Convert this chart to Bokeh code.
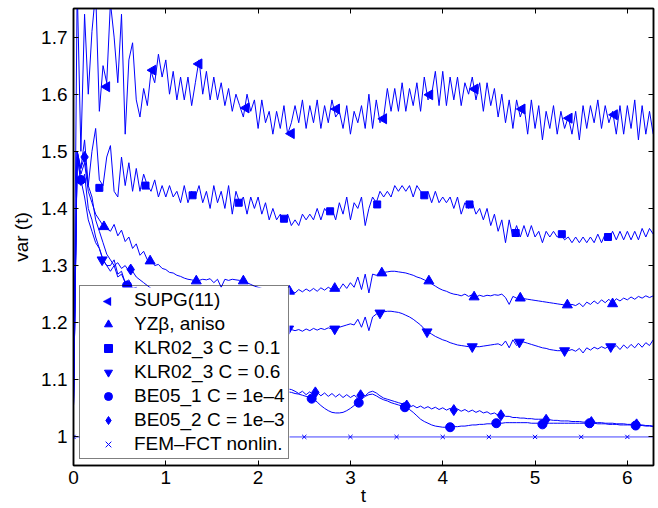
import numpy as np
from bokeh.plotting import figure
from bokeh.models import (Range1d, LinearAxis, FixedTicker, Legend, LegendItem,
                          PolyAnnotation, BoxAnnotation)
from bokeh.embed import file_html
from bokeh.resources import INLINE

# sampling step of the time series (t = 0, 0.04, 0.08, ...)
t_step = 0.04

supg = [
    1.055, 1.79, 1.50, 1.74, 1.60, 1.71, 1.78, 1.57, 1.65, 1.62,
    1.76, 1.70, 1.62, 1.74, 1.53, 1.66, 1.69, 1.59, 1.56, 1.61,
    1.58, 1.64, 1.62, 1.67, 1.63, 1.66, 1.60, 1.64, 1.59, 1.63,
    1.59, 1.63, 1.58, 1.62, 1.66, 1.60, 1.64, 1.59, 1.63, 1.59,
    1.62, 1.58, 1.61, 1.57, 1.60, 1.58, 1.56, 1.60, 1.57, 1.59,
    1.54, 1.59, 1.55, 1.57, 1.53, 1.57, 1.54, 1.58, 1.53, 1.55,
    1.58, 1.55, 1.59, 1.54, 1.58, 1.55, 1.59, 1.54, 1.58, 1.55,
    1.59, 1.56, 1.57, 1.54, 1.58, 1.53, 1.57, 1.55, 1.58, 1.54,
    1.60, 1.54, 1.59, 1.55, 1.56, 1.61, 1.57, 1.61, 1.57, 1.62,
    1.57, 1.61, 1.58, 1.62, 1.57, 1.63, 1.59, 1.60, 1.64, 1.58,
    1.64, 1.58, 1.63, 1.59, 1.63, 1.58, 1.62, 1.60, 1.63, 1.59,
    1.62, 1.57, 1.62, 1.58, 1.61, 1.56, 1.60, 1.55, 1.59, 1.54,
    1.59, 1.56, 1.58, 1.53, 1.59, 1.54, 1.58, 1.52, 1.57, 1.54,
    1.58, 1.53, 1.57, 1.54, 1.56, 1.53, 1.57, 1.52, 1.58, 1.54,
    1.58, 1.55, 1.59, 1.54, 1.58, 1.55, 1.57, 1.53, 1.58, 1.53,
    1.58, 1.54, 1.59, 1.52, 1.58, 1.53, 1.57, 1.53,
]

yzb = [
    1.055, 1.50, 1.46, 1.48, 1.43, 1.41, 1.39, 1.38, 1.37, 1.365,
    1.36, 1.372, 1.352, 1.362, 1.342, 1.35, 1.33, 1.338, 1.318, 1.325,
    1.31, 1.312, 1.30, 1.302, 1.295, 1.293, 1.288, 1.287, 1.283, 1.281,
    1.278, 1.276, 1.275, 1.273, 1.274, 1.276, 1.275, 1.277, 1.27, 1.276,
    1.262, 1.276, 1.274, 1.276, 1.275, 1.274, 1.273, 1.27, 1.267, 1.264,
    1.262, 1.26, 1.258, 1.257, 1.256, 1.256, 1.255, 1.256, 1.255, 1.256,
    1.252, 1.258, 1.254, 1.259, 1.255, 1.26, 1.255, 1.261, 1.257, 1.262,
    1.258, 1.264, 1.258, 1.268, 1.26, 1.27, 1.262, 1.28, 1.258, 1.285,
    1.252, 1.285, 1.283, 1.288, 1.288, 1.289, 1.29, 1.29, 1.289, 1.288,
    1.287, 1.285, 1.283, 1.28, 1.278, 1.275, 1.272, 1.268, 1.264, 1.26,
    1.257, 1.255, 1.252, 1.25, 1.249, 1.247, 1.25, 1.246, 1.249, 1.245,
    1.248, 1.246, 1.248, 1.247, 1.249, 1.248, 1.25, 1.244, 1.232, 1.246,
    1.243, 1.244, 1.242, 1.241, 1.24, 1.239, 1.238, 1.237, 1.236, 1.235,
    1.234, 1.233, 1.232, 1.231, 1.231, 1.232, 1.23, 1.234, 1.228, 1.236,
    1.232, 1.238, 1.233, 1.24, 1.235, 1.241, 1.234, 1.242, 1.238, 1.243,
    1.24, 1.245, 1.241, 1.246, 1.243, 1.247, 1.244, 1.247,
]

klr01 = [
    1.055, 1.50, 1.47, 1.52, 1.44, 1.50, 1.54, 1.45, 1.44, 1.49,
    1.51, 1.43, 1.42, 1.49, 1.44, 1.48, 1.43, 1.47, 1.43, 1.46,
    1.44, 1.43, 1.45, 1.42, 1.44, 1.42, 1.44, 1.42, 1.43, 1.41,
    1.44, 1.41, 1.43, 1.42, 1.44, 1.41, 1.43, 1.40, 1.44, 1.41,
    1.43, 1.40, 1.44, 1.39, 1.43, 1.41, 1.42, 1.39, 1.42, 1.40,
    1.42, 1.39, 1.41, 1.38, 1.40, 1.38, 1.39, 1.38, 1.39, 1.37,
    1.38, 1.37, 1.39, 1.38, 1.39, 1.38, 1.40, 1.38, 1.40, 1.39,
    1.40, 1.38, 1.41, 1.39, 1.42, 1.38, 1.41, 1.40, 1.42, 1.37,
    1.40, 1.42, 1.41, 1.43, 1.42, 1.43, 1.42, 1.44, 1.43, 1.44,
    1.43, 1.44, 1.42, 1.44, 1.43, 1.42, 1.43, 1.41, 1.43, 1.41,
    1.42, 1.41, 1.42, 1.40, 1.42, 1.39, 1.41, 1.40, 1.41, 1.39,
    1.40, 1.38, 1.40, 1.37, 1.39, 1.36, 1.38, 1.34, 1.38, 1.35,
    1.37, 1.35, 1.37, 1.35, 1.37, 1.35, 1.36, 1.34, 1.36, 1.35,
    1.36, 1.35, 1.355, 1.345, 1.35, 1.34, 1.35, 1.34, 1.35, 1.34,
    1.35, 1.34, 1.355, 1.34, 1.355, 1.345, 1.36, 1.345, 1.36, 1.345,
    1.36, 1.345, 1.36, 1.345, 1.365, 1.35, 1.365, 1.355,
]

klr06 = [
    1.055, 1.50, 1.44, 1.46, 1.40, 1.38, 1.35, 1.33, 1.31, 1.30,
    1.30, 1.31, 1.285, 1.29, 1.27, 1.275, 1.26, 1.262, 1.25, 1.25,
    1.245, 1.242, 1.24, 1.237, 1.235, 1.232, 1.23, 1.228, 1.226, 1.224,
    1.222, 1.22, 1.218, 1.216, 1.214, 1.213, 1.212, 1.21, 1.209, 1.208,
    1.206, 1.205, 1.204, 1.203, 1.202, 1.201, 1.20, 1.199, 1.198, 1.197,
    1.196, 1.195, 1.194, 1.193, 1.192, 1.191, 1.19, 1.19, 1.189, 1.188,
    1.186, 1.188, 1.185, 1.189, 1.186, 1.19, 1.187, 1.19, 1.188, 1.191,
    1.189, 1.19, 1.192, 1.194, 1.196, 1.198, 1.196, 1.206, 1.192, 1.21,
    1.186, 1.21, 1.215, 1.217, 1.219, 1.22, 1.22, 1.219, 1.218, 1.216,
    1.213, 1.21, 1.206, 1.201, 1.196, 1.189, 1.184, 1.18, 1.176, 1.173,
    1.17, 1.168, 1.165, 1.163, 1.161, 1.16, 1.159, 1.158, 1.158, 1.158,
    1.158, 1.159, 1.16, 1.161, 1.162, 1.163, 1.16, 1.168, 1.156, 1.17,
    1.16, 1.167, 1.166, 1.164, 1.162, 1.16, 1.158, 1.156, 1.155, 1.153,
    1.152, 1.151, 1.151, 1.15, 1.151, 1.153, 1.15, 1.155, 1.147, 1.156,
    1.152, 1.157, 1.154, 1.158, 1.155, 1.159, 1.155, 1.16, 1.153, 1.161,
    1.155, 1.162, 1.156, 1.164, 1.157, 1.165, 1.16, 1.17,
]

be05_1 = [
    1.055, 1.49, 1.45, 1.42, 1.38, 1.36, 1.34, 1.33, 1.31, 1.30,
    1.29, 1.30, 1.28, 1.285, 1.27, 1.265, 1.26, 1.25, 1.245, 1.24,
    1.235, 1.23, 1.22, 1.21, 1.20, 1.19, 1.18, 1.17, 1.165, 1.16,
    1.155, 1.15, 1.145, 1.14, 1.135, 1.13, 1.125, 1.12, 1.117, 1.114,
    1.11, 1.107, 1.104, 1.10, 1.098, 1.095, 1.093, 1.091, 1.09, 1.088,
    1.087, 1.086, 1.085, 1.084, 1.083, 1.082, 1.081, 1.08, 1.079, 1.078,
    1.076, 1.075, 1.073, 1.071, 1.069, 1.066, 1.061, 1.055, 1.05, 1.046,
    1.043, 1.042, 1.042, 1.043, 1.046, 1.05, 1.055, 1.06, 1.066, 1.071,
    1.074, 1.075, 1.072, 1.068, 1.065, 1.063, 1.06, 1.058, 1.056, 1.054,
    1.051, 1.048, 1.043, 1.037, 1.031, 1.027, 1.024, 1.021, 1.019, 1.018,
    1.017, 1.017, 1.017, 1.018, 1.018, 1.019, 1.019, 1.02, 1.021, 1.021,
    1.022, 1.022, 1.023, 1.023, 1.024, 1.024, 1.024, 1.025, 1.025, 1.025,
    1.025, 1.025, 1.025, 1.025, 1.024, 1.024, 1.024, 1.024, 1.024, 1.024,
    1.024, 1.024, 1.024, 1.024, 1.024, 1.024, 1.024, 1.024, 1.024, 1.024,
    1.024, 1.024, 1.023, 1.023, 1.023, 1.022, 1.022, 1.022, 1.021, 1.021,
    1.021, 1.021, 1.02, 1.02, 1.02, 1.019, 1.019, 1.018,
]

be05_2 = [
    1.055, 1.50, 1.47, 1.49, 1.44, 1.42, 1.38, 1.36, 1.34, 1.32,
    1.31, 1.30, 1.305, 1.295, 1.30, 1.29, 1.29, 1.28, 1.275, 1.27,
    1.265, 1.26, 1.25, 1.245, 1.24, 1.23, 1.22, 1.21, 1.20, 1.19,
    1.18, 1.17, 1.16, 1.155, 1.15, 1.145, 1.14, 1.135, 1.13, 1.125,
    1.12, 1.115, 1.11, 1.107, 1.104, 1.10, 1.098, 1.096, 1.094, 1.092,
    1.09, 1.089, 1.088, 1.087, 1.086, 1.085, 1.085, 1.084, 1.084, 1.083,
    1.08, 1.076, 1.08, 1.074, 1.079, 1.073, 1.078, 1.072, 1.077, 1.071,
    1.076, 1.07, 1.075, 1.069, 1.074, 1.069, 1.073, 1.068, 1.074, 1.072,
    1.078, 1.08, 1.077, 1.072, 1.068, 1.066, 1.064, 1.062, 1.06, 1.058,
    1.056, 1.052, 1.055, 1.051, 1.054, 1.05, 1.053, 1.049, 1.052, 1.048,
    1.051, 1.047, 1.05, 1.046, 1.049, 1.045, 1.048, 1.044, 1.047, 1.043,
    1.046, 1.042, 1.044, 1.04, 1.042, 1.038, 1.039, 1.036, 1.036, 1.034,
    1.034, 1.033, 1.033, 1.032, 1.032, 1.031, 1.031, 1.031, 1.03, 1.03,
    1.029, 1.029, 1.028, 1.028, 1.028, 1.027, 1.027, 1.027, 1.026, 1.026,
    1.026, 1.025, 1.025, 1.025, 1.024, 1.024, 1.024, 1.023, 1.023, 1.023,
    1.022, 1.022, 1.022, 1.021, 1.021, 1.02, 1.02, 1.019,
]

fem_t = [0.0, 6.2832]
fem_v = [1.0, 1.0]

# marker positions
supg_mt = [0.36, 0.86, 1.36, 1.87, 2.36, 2.85, 3.36, 3.86, 4.35, 4.86, 5.37, 5.86]
supg_mv = [1.613, 1.642, 1.653, 1.576, 1.531, 1.574, 1.557, 1.599, 1.609, 1.574, 1.558, 1.564]
yzb_mt = [0.33, 0.83, 1.33, 1.84, 2.34, 2.83, 3.34, 3.85, 4.34, 4.84, 5.35, 5.84]
yzb_mv = [1.368, 1.308, 1.273, 1.273, 1.255, 1.26, 1.287, 1.273, 1.245, 1.243, 1.231, 1.233]
klr01_mt = [0.28, 0.78, 1.29, 1.79, 2.28, 2.78, 3.29, 3.80, 4.29, 4.79, 5.29, 5.79]
klr01_mv = [1.436, 1.44, 1.423, 1.41, 1.382, 1.395, 1.407, 1.423, 1.407, 1.357, 1.355, 1.35]
klr06_mt = [0.31, 0.81, 1.32, 1.82, 2.33, 2.83, 3.32, 3.83, 4.32, 4.83, 5.32, 5.82]
klr06_mv = [1.31, 1.245, 1.217, 1.203, 1.189, 1.189, 1.217, 1.184, 1.158, 1.166, 1.151, 1.158]
be05_1_mt = [0.08, 0.58, 1.08, 1.58, 2.08, 2.58, 3.09, 3.59, 4.08, 4.58, 5.08, 5.59, 6.09]
be05_1_mv = [1.45, 1.265, 1.17, 1.11, 1.086, 1.067, 1.06, 1.052, 1.017, 1.024, 1.022, 1.024, 1.02]
be05_2_mt = [0.12, 0.62, 1.12, 1.62, 2.12, 2.62, 3.11, 3.61, 4.12, 4.63, 5.12, 5.61, 6.10]
be05_2_mv = [1.49, 1.293, 1.20, 1.115, 1.087, 1.078, 1.073, 1.055, 1.047, 1.038, 1.03, 1.026, 1.022]
fem_mt = [0.0, 0.5, 1.0, 1.5, 2.0, 2.5, 3.0, 3.5, 4.0, 4.5, 5.0, 5.5, 6.0]
fem_mv = [1.0, 1.0, 1.0, 1.0, 1.0, 1.0, 1.0, 1.0, 1.0, 1.0, 1.0, 1.0, 1.0]

labels = ["SUPG(11)", "YZ\u03b2, aniso", "KLR02_3 C = 0.1", "KLR02_3 C = 0.6",
          "BE05_1 C = 1e\u20134", "BE05_2 C = 1e\u20133", "FEM\u2013FCT nonlin."]

x_ticks = [0, 1, 2, 3, 4, 5, 6]
y_ticks = [1.0, 1.1, 1.2, 1.3, 1.4, 1.5, 1.6, 1.7]
y_tick_labels = ["1", "1.1", "1.2", "1.3", "1.4", "1.5", "1.6", "1.7"]
x_limits = (0.0, 2 * np.pi)
y_limits = (0.95, 1.75)

BLUE = "#0000ff"
FONT = "Liberation Sans"

# layout constants (pixels)
W, H = 658, 508
BORDER_L, BORDER_T, BORDER_R = 73, 8, 5
BOTTOM_PANEL = 43
LEG_MARGIN, LEG_PAD, LEG_SPACING = 6, 3, 2
GLYPH_W, GLYPH_H, ROW_H = 50, 20, 22
LEG_W = 210

p = figure(width=W, height=H, x_range=Range1d(*x_limits), y_range=Range1d(*y_limits),
           output_backend="svg", toolbar_location=None,
           min_border_left=BORDER_L, min_border_right=BORDER_R, min_border_top=BORDER_T,
           min_border_bottom=0)
p.background_fill_color = "white"
p.border_fill_color = "white"
p.outline_line_color = "black"
p.outline_line_width = 1.5
p.xgrid.visible = False
p.ygrid.visible = False


def tgrid(vals):
    return [round(k * t_step, 4) for k in range(len(vals))]


series = [supg, yzb, klr01, klr06, be05_1, be05_2]
for s in series:
    p.line(tgrid(s), s, line_color=BLUE, line_width=1)
p.line(fem_t, fem_v, line_color=BLUE, line_width=1, line_alpha=0.75)

r_supg = p.scatter(supg_mt, supg_mv, marker="triangle", angle=np.pi / 2, size=10,
                   fill_color=BLUE, line_color=BLUE)
r_yzb = p.scatter(yzb_mt, yzb_mv, marker="triangle", size=10, fill_color=BLUE, line_color=BLUE)
r_k1 = p.scatter(klr01_mt, klr01_mv, marker="square", size=7, fill_color=BLUE, line_color=BLUE)
r_k6 = p.scatter(klr06_mt, klr06_mv, marker="inverted_triangle", size=10, fill_color=BLUE, line_color=BLUE)
r_b1 = p.scatter(be05_1_mt, be05_1_mv, marker="circle", size=9, fill_color=BLUE, line_color=BLUE)
r_b2 = p.scatter(be05_2_mt, be05_2_mv, marker="diamond", size=11, fill_color=BLUE, line_color=BLUE)
r_fem = p.scatter(fem_mt, fem_mv, marker="x", size=6, line_color=BLUE, line_width=1)

# invisible stand-in for the SUPG legend entry; its left-pointing key is drawn separately
r_supg_key = p.scatter([], [], marker="triangle", size=8, fill_alpha=0, line_alpha=0)

renderers = [r_supg_key, r_yzb, r_k1, r_k6, r_b1, r_b2, r_fem]

# axes
for ax in (p.xaxis[0], p.yaxis[0]):
    ax.major_tick_in = 5
    ax.major_tick_out = 0
    ax.minor_tick_line_color = None
    ax.axis_line_color = "black"
    ax.axis_line_width = 1.5
    ax.major_tick_line_color = "black"
    ax.major_label_text_font = FONT
    ax.major_label_text_font_size = "19px"
    ax.major_label_text_color = "black"
    ax.axis_label_text_font = FONT
    ax.axis_label_text_font_size = "19px"
    ax.axis_label_text_font_style = "normal"
    ax.axis_label_text_color = "black"

p.xaxis[0].ticker = FixedTicker(ticks=x_ticks)
p.yaxis[0].ticker = FixedTicker(ticks=y_ticks)
p.yaxis[0].major_label_overrides = {v: l for v, l in zip(y_ticks, y_tick_labels)}
p.xaxis[0].axis_label = "t"
p.yaxis[0].axis_label = "var (t)"
p.xaxis[0].major_label_standoff = 5
p.xaxis[0].axis_label_standoff = -2
p.yaxis[0].major_label_standoff = 6
p.yaxis[0].axis_label_standoff = 6

top_ax = LinearAxis(ticker=FixedTicker(ticks=x_ticks), major_label_text_font_size="0px",
                    major_label_text_color=None,
                    major_label_standoff=0, major_tick_in=5, major_tick_out=0,
                    minor_tick_line_color=None, axis_line_width=1.5)
right_ax = LinearAxis(ticker=FixedTicker(ticks=y_ticks), major_label_text_font_size="0px",
                      major_label_text_color=None,
                      major_label_standoff=0, major_tick_in=5, major_tick_out=0,
                      minor_tick_line_color=None, axis_line_width=1.5)
p.add_layout(top_ax, "above")
p.add_layout(right_ax, "right")

# pixel -> data helpers for the legend key / legend background
frame_left, frame_right = BORDER_L, W - BORDER_R
frame_top, frame_bottom = BORDER_T, H - BOTTOM_PANEL


def px_to_x(px):
    return x_limits[0] + (px - frame_left) / (frame_right - frame_left) * (x_limits[1] - x_limits[0])


def py_to_y(py):
    return y_limits[1] - (py - frame_top) / (frame_bottom - frame_top) * (y_limits[1] - y_limits[0])


n_items = len(labels)
leg_h = n_items * ROW_H + (n_items - 1) * LEG_SPACING + 2 * LEG_PAD
leg_left = frame_left + LEG_MARGIN
leg_bottom = frame_bottom - LEG_MARGIN
leg_top = leg_bottom - leg_h

# opaque legend background (drawn under the key and the legend texts)
bg = BoxAnnotation(left=px_to_x(leg_left), right=px_to_x(leg_left + LEG_W),
                   top=py_to_y(leg_top), bottom=py_to_y(leg_bottom),
                   fill_color="white", fill_alpha=1.0, line_color=None)
p.add_layout(bg)

# left-pointing legend key for SUPG(11)
key_px = leg_left + LEG_PAD + GLYPH_W / 2
key_py = leg_top + LEG_PAD + ROW_H / 2
key = PolyAnnotation(xs=[px_to_x(key_px - 4.5), px_to_x(key_px + 3.5), px_to_x(key_px + 3.5)],
                     ys=[py_to_y(key_py), py_to_y(key_py - 4.3), py_to_y(key_py + 4.3)],
                     fill_color=BLUE, fill_alpha=1.0, line_color=BLUE, line_width=1)
p.add_layout(key)

legend = Legend(items=[LegendItem(label=l, renderers=[r]) for l, r in zip(labels, renderers)],
                location="bottom_left", margin=LEG_MARGIN, padding=LEG_PAD, spacing=LEG_SPACING,
                glyph_width=GLYPH_W, glyph_height=GLYPH_H, label_height=GLYPH_H, label_standoff=1,
                label_text_font=FONT, label_text_font_size="19px", label_text_color="black",
                border_line_color="black", border_line_width=1,
                background_fill_alpha=0.0)
p.add_layout(legend)

open("out.html", "w").write(file_html(p, INLINE))
